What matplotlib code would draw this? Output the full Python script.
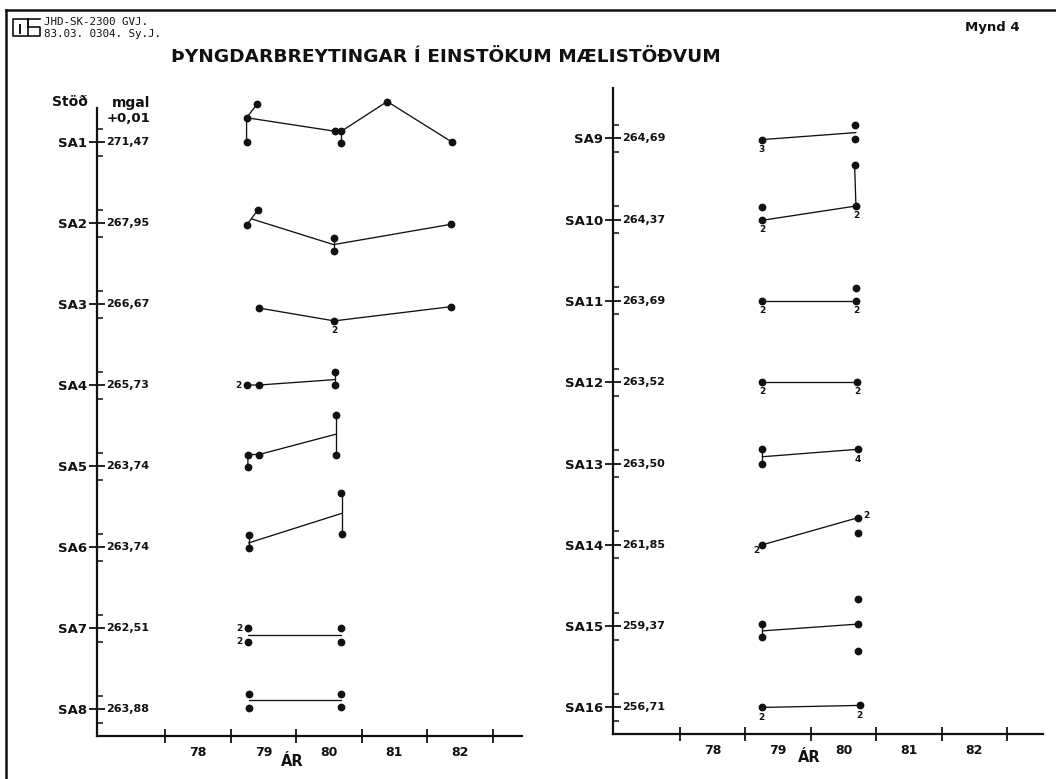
import matplotlib
matplotlib.use("Agg")
import matplotlib.pyplot as plt
from matplotlib.lines import Line2D

# ===============================
# Þyngdarbreytingar í einstökum mælistöðvum (Mynd 4)
# ===============================

W, H = 1056, 779

# -------------------------------
# data: station names + reference values (mgal)
# -------------------------------
left_stations = ["SA1", "SA2", "SA3", "SA4", "SA5", "SA6", "SA7", "SA8"]
left_values = ["271,47", "267,95", "266,67", "265,73", "263,74", "263,74", "262,51", "263,88"]

right_stations = ["SA9", "SA10", "SA11", "SA12", "SA13", "SA14", "SA15", "SA16"]
right_values = ["264,69", "264,37", "263,69", "263,52", "263,50", "261,85", "259,37", "256,71"]

year_labels = ["78", "79", "80", "81", "82"]

# measurements: (year, offset from station value in 0.01 mgal)
left_dots = [
    [(79.40, 2.8), (79.24, 1.8), (79.24, 0.0), (80.59, 0.8), (80.69, 0.8), (80.69, -0.1), (81.39, 3.0), (82.38, 0.0)],
    [(79.41, 0.95), (79.24, -0.15), (80.57, -1.1), (80.57, -2.1), (82.36, -0.1)],
    [(79.43, -0.3), (80.58, -1.25), (82.36, -0.2)],
    [(79.24, 0.0), (79.43, 0.0), (80.59, 0.95), (80.59, 0.0)],
    [(80.60, 3.8), (80.60, 0.85), (79.43, 0.85), (79.26, 0.85), (79.26, -0.1)],
    [(80.69, 4.0), (80.70, 0.95), (79.27, 0.9), (79.27, -0.1)],
    [(79.26, 0.0), (79.26, -1.0), (80.68, 0.0), (80.69, -1.0)],
    [(79.27, 1.1), (79.27, 0.1), (80.69, 1.1), (80.69, 0.15)],
]
# connecting lines (means)
left_links = [
    [[(79.40, 2.8), (79.24, 1.8), (79.24, 0.0)],
     [(79.24, 1.8), (80.59, 0.8), (80.69, 0.8), (81.39, 3.0), (82.38, 0.0)],
     [(80.69, 0.8), (80.69, -0.1)]],
    [[(79.24, -0.15), (79.41, 0.95)],
     [(79.32, 0.3), (80.57, -1.6), (82.36, -0.1)],
     [(80.57, -1.1), (80.57, -2.1)]],
    [[(79.43, -0.3), (80.58, -1.25), (82.36, -0.2)]],
    [[(79.24, 0.0), (79.43, 0.0), (80.59, 0.4)],
     [(80.59, 0.95), (80.59, 0.0)]],
    [[(79.26, -0.1), (79.26, 0.85), (79.43, 0.85), (80.60, 2.35)],
     [(80.60, 3.8), (80.60, 0.85)]],
    [[(80.70, 4.0), (80.70, 0.95)],
     [(79.27, 0.9), (79.27, -0.1)],
     [(79.27, 0.3), (80.70, 2.5)]],
    [[(79.26, -0.55), (80.69, -0.55)]],
    [[(79.27, 0.65), (80.69, 0.65)]],
]
# number of measurements written next to a dot
left_counts = [
    [], [],
    [(80.58, -1.25, "2", "below")],
    [(79.24, 0.0, "2", "left")],
    [], [],
    [(79.26, 0.0, "2", "left"), (79.26, -1.0, "2", "left")],
    [],
]

right_dots = [
    [(79.25, -0.1), (80.68, 0.95), (80.68, -0.05)],
    [(79.26, 0.95), (79.26, -0.05), (80.69, 1.0), (80.67, 4.05)],
    [(79.26, 0.0), (80.69, 0.0), (80.69, 0.95)],
    [(79.26, 0.0), (80.71, 0.0)],
    [(79.26, 1.05), (79.26, 0.0), (80.72, 1.05)],
    [(79.26, 0.0), (80.72, 2.0), (80.72, 0.9)],
    [(79.26, 0.15), (79.26, -0.8), (80.72, 0.15), (80.72, 2.0), (80.72, -1.85)],
    [(79.25, 0.0), (80.75, 0.15)],
]
right_links = [
    [[(79.25, -0.1), (80.69, 0.42)]],
    [[(79.26, -0.05), (80.69, 1.0), (80.67, 4.05)]],
    [[(79.26, 0.0), (80.69, 0.0)]],
    [[(79.26, 0.0), (80.71, 0.0)]],
    [[(79.26, 1.05), (79.26, 0.0)],
     [(79.26, 0.5), (80.72, 1.05)]],
    [[(79.26, 0.0), (80.72, 2.0)]],
    [[(79.26, 0.15), (79.26, -0.8)],
     [(79.26, -0.35), (80.72, 0.15)]],
    [[(79.25, 0.0), (80.75, 0.15)]],
]
right_counts = [
    [(79.25, -0.1, "3", "below")],
    [(79.26, -0.05, "2", "below"), (80.69, 1.0, "2", "below")],
    [(79.26, 0.0, "2", "below"), (80.69, 0.0, "2", "below")],
    [(79.26, 0.0, "2", "below"), (80.71, 0.0, "2", "below")],
    [(80.72, 1.05, "4", "below")],
    [(80.72, 2.0, "2", "right"), (79.26, 0.0, "2", "lowleft")],
    [],
    [(79.25, 0.0, "2", "below"), (80.75, 0.15, "2", "below")],
]

SPACING = 6  # rows are 0.06 mgal apart on the plot
INK = "#111111"
plt.rcParams["font.family"] = "DejaVu Sans"

offsets = {"below": (0, -7), "left": (-6, 0), "right": (6, 1.5), "lowleft": (-4.5, -4)}


def px_box(x0, y0, x1, y1):
    return [x0 / W, 1 - y1 / H, (x1 - x0) / W, (y1 - y0) / H]


def draw_panel(ax, stations, values, dots, links, counts):
    rows = [-SPACING * i for i in range(len(stations))]

    for row, station_links in zip(rows, links):
        for link in station_links:
            ax.plot([p[0] for p in link], [row + p[1] for p in link],
                    color=INK, lw=0.95, solid_capstyle="round", clip_on=False)

    for row, d in zip(rows, dots):
        ax.plot([p[0] for p in d], [row + p[1] for p in d], "o",
                ms=4.6, color=INK, ls="none", clip_on=False)

    for row, c in zip(rows, counts):
        for x, y, txt, where in c:
            ax.annotate(txt, xy=(x, row + y), xytext=offsets[where],
                        textcoords="offset points", ha="center", va="center",
                        fontsize=6.5, fontweight="bold", color=INK)

    # station values on the inside of the axis
    for row, val in zip(rows, values):
        ax.annotate(val, xy=(0, row), xycoords=ax.get_yaxis_transform(),
                    xytext=(6.5, 0), textcoords="offset points",
                    ha="left", va="center", fontsize=8, fontweight="bold", color=INK)

    ax.set_yticks(rows)
    ax.set_yticklabels(stations, fontsize=9.5, fontweight="bold", color=INK)
    ax.set_yticks([r + 1 for r in rows] + [r - 1 for r in rows], minor=True)
    ax.tick_params(axis="y", which="major", direction="inout", length=11,
                   width=1.3, pad=1.5, color=INK)
    ax.tick_params(axis="y", which="minor", direction="in", length=4.5,
                   width=1.1, color=INK)

    ax.set_xticks([78, 79, 80, 81, 82, 83])
    ax.set_xticklabels([])
    ax.set_xticks([78.5, 79.5, 80.5, 81.5, 82.5], minor=True)
    ax.set_xticklabels(year_labels, minor=True, fontsize=9, fontweight="bold", color=INK)
    ax.tick_params(axis="x", which="major", direction="inout", length=10,
                   width=1.3, color=INK)
    ax.tick_params(axis="x", which="minor", length=0, pad=7)

    for s in ["top", "right"]:
        ax.spines[s].set_visible(False)
    for s in ["left", "bottom"]:
        ax.spines[s].set_linewidth(1.6)
        ax.spines[s].set_color(INK)


fig = plt.figure(figsize=(W / 100, H / 100), dpi=100)

# -------------------------------
# left panel: SA1 - SA8
# -------------------------------
ax1 = fig.add_axes(px_box(97, 108, 522, 736))
draw_panel(ax1, left_stations, left_values, left_dots, left_links, left_counts)
ax1.set_xlim(76.953, 83.451)
ax1.set_ylim(-44.0, 2.52)

# -------------------------------
# right panel: SA9 - SA16
# -------------------------------
ax2 = fig.add_axes(px_box(613, 88, 1043, 734))
draw_panel(ax2, right_stations, right_values, right_dots, right_links, right_counts)
ax2.set_xlim(76.976, 83.55)
ax2.set_ylim(-43.96, 3.71)


def ftext(x, y, s, **kw):
    fig.text(x / W, 1 - y / H, s, color=INK, **kw)


ftext(446, 57, "ÞYNGDARBREYTINGAR Í EINSTÖKUM MÆLISTÖÐVUM",
      ha="center", va="center", fontsize=13.3, fontweight="bold")
ftext(992, 28, "Mynd 4", ha="center", va="center", fontsize=9.5, fontweight="bold")
ftext(44, 22, "JHD-SK-2300 GVJ.", ha="left", va="center", fontsize=7.8,
      family="DejaVu Sans Mono")
ftext(44, 34, "83.03. 0304. Sy.J.", ha="left", va="center", fontsize=7.8,
      family="DejaVu Sans Mono")

ftext(88, 102, "Stöð", ha="right", va="center", fontsize=10, fontweight="bold")
ftext(150, 103, "mgal", ha="right", va="center", fontsize=10, fontweight="bold")
ftext(150, 118, "+0,01", ha="right", va="center", fontsize=9.5, fontweight="bold")

ftext(292, 761, "ÁR", ha="center", va="center", fontsize=10.5, fontweight="bold")
ftext(809, 758, "ÁR", ha="center", va="center", fontsize=10.5, fontweight="bold")


# -------------------------------
# frame + logo
# -------------------------------
def fline(xs, ys, lw):
    fig.add_artist(Line2D([x / W for x in xs], [1 - y / H for y in ys],
                          transform=fig.transFigure, color=INK, lw=lw))


fline([6, 6], [10, 779], 1.8)
fline([6, 1056], [10, 10], 1.8)

fline([28, 13, 13, 28, 28], [19, 19, 36, 36, 19], 1.2)
fline([20, 20], [25, 33], 1.4)
fline([40, 28, 28, 40, 40, 28], [19, 19, 27, 27, 36, 36], 1.2)

fig.savefig("out.png", dpi=100)
